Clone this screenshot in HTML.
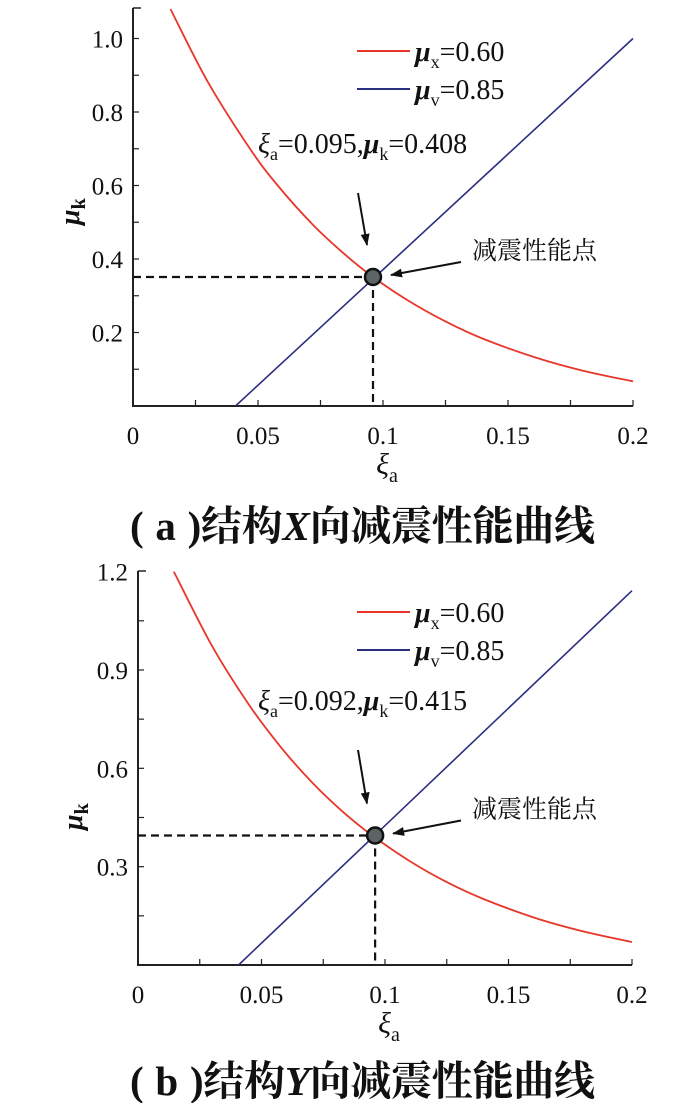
<!DOCTYPE html>
<html><head><meta charset="utf-8">
<style>
html,body{margin:0;padding:0;background:#fff;}
svg{display:block;}
text{font-family:"Liberation Serif","Noto Serif CJK SC",serif;fill:#111;}
.cap{font-family:"Liberation Serif","Noto Serif CJK SC",serif;font-weight:bold;font-size:41px;}
</style></head>
<body>
<svg id="chart" width="700" height="1103" viewBox="0 0 700 1103" xmlns="http://www.w3.org/2000/svg">
<defs>
<marker id="ah" markerWidth="12" markerHeight="9" refX="11" refY="4.5" orient="auto" markerUnits="userSpaceOnUse"><path d="M0,0 L12,4.5 L0,9 Z" fill="#111"/></marker>
</defs>
</svg>
<script>
// Panel A data
const xTicksA = [0, 0.05, 0.1, 0.15, 0.2];
const xTickLabelsA = ["0", "0.05", "0.1", "0.15", "0.2"];
const yTicksA = [0.2, 0.4, 0.6, 0.8, 1.0];
const yTickLabelsA = ["0.2", "0.4", "0.6", "0.8", "1.0"];
const redXA = [0.015, 0.03, 0.047, 0.058, 0.072, 0.085, 0.096, 0.11, 0.125, 0.14, 0.161, 0.18, 0.2];
const redYA = [1.08, 0.881, 0.698, 0.599, 0.493, 0.411, 0.351, 0.287, 0.230, 0.183, 0.132, 0.096, 0.067];
const blueXA = [0.041, 0.2];
const blueYA = [0.0, 1.0];
const pointA = [0.096, 0.351];
// Panel B data
const xTicksB = [0, 0.05, 0.1, 0.15, 0.2];
const xTickLabelsB = ["0", "0.05", "0.1", "0.15", "0.2"];
const yTicksB = [0.3, 0.6, 0.9, 1.2];
const yTickLabelsB = ["0.3", "0.6", "0.9", "1.2"];
const redXB = [0.0145, 0.03, 0.0452, 0.058, 0.0706, 0.083, 0.095, 0.11, 0.125, 0.14, 0.161, 0.18, 0.2];
const redYB = [1.2, 0.973, 0.791, 0.663, 0.556, 0.467, 0.394, 0.317, 0.253, 0.201, 0.143, 0.103, 0.070];
const blueXB = [0.0407, 0.2];
const blueYB = [0.0, 1.142];
const pointB = [0.096, 0.395];

const NS = "http://www.w3.org/2000/svg";
const svg = document.getElementById('chart');
function mk(tag, attrs, parent, txt){
  const e = document.createElementNS(NS, tag);
  for (const k in attrs) e.setAttribute(k, attrs[k]);
  if (txt !== undefined) e.textContent = txt;
  (parent || svg).appendChild(e);
  return e;
}
function smoothPath(px){
  let d = "M" + px[0][0] + "," + px[0][1];
  for (let i = 0; i < px.length - 1; i++){
    const p0 = px[i-1] || px[i], p1 = px[i], p2 = px[i+1], p3 = px[i+2] || p2;
    const c1 = [p1[0] + (p2[0]-p0[0])/6, p1[1] + (p2[1]-p0[1])/6];
    const c2 = [p2[0] - (p3[0]-p1[0])/6, p2[1] - (p3[1]-p1[1])/6];
    d += " C" + c1 + " " + c2 + " " + p2;
  }
  return d;
}
function panel(o){
  const g = mk('g', {});
  
  
  const sx = v => o.x0 + v / 0.2 * (o.x1 - o.x0);
  const sy = v => o.y0 - v * o.ppu;
  const ax = mk('path', {d:`M${o.x0},${o.top} L${o.x0},${o.y0} L${o.x1},${o.y0}`, fill:'none', stroke:'#222', 'stroke-width':2}, g);
  
  
  for (let i = 0; i <= 8; i++){
    const x = sx(i * 0.025);
    mk('line', {x1:x, x2:x, y1:o.y0, y2:o.y0-6, stroke:'#222', 'stroke-width':1.2}, g);
  }
  o.xTicks.forEach((t, i) => {
    const lb = mk('text', {x:sx(t), y:o.y0+38, 'text-anchor':'middle', 'font-size':25}, g, o.xLabels[i]);
    
    
  });
  for (let v = o.minorY; v < o.ymax; v += o.minorY){
    const y = sy(v);
    mk('line', {x1:o.x0, x2:o.x0+6, y1:y, y2:y, stroke:'#222', 'stroke-width':1.2}, g);
  }
  mk('line', {x1:o.x0, x2:o.x0+8, y1:o.top, y2:o.top, stroke:'#222', 'stroke-width':1.5}, g);
  o.yTicks.forEach((t, i) => {
    const lb = mk('text', {x:o.x0-10, y:sy(t)+9, 'text-anchor':'end', 'font-size':25}, g, o.yLabels[i]);
    
    
  });
  const xt = mk('text', {x:(o.x0+o.x1)/2+4, y:o.y0+68, 'text-anchor':'middle', 'font-size':30, 'font-style':'italic'}, g);
  xt.innerHTML = 'ξ<tspan font-size="20" dy="8" font-style="normal">a</tspan>';
  
  
  const yt = mk('text', {x:0, y:0, 'font-size':28, 'font-weight':'bold', 'font-style':'italic', transform:`translate(${o.ytX},${o.ytY}) rotate(-90)`}, g);
  yt.innerHTML = 'μ<tspan font-size="20" dy="6" font-style="normal">k</tspan>';
  
  
  const red = mk('path', {d:smoothPath(o.redX.map((v,i)=>[sx(v), sy(o.redY[i])])), fill:'none', stroke:'#e8372a', 'stroke-width':1.8}, g);
  
  
  const blue = mk('path', {d:'M' + o.blueX.map((v,i)=>sx(v)+','+sy(o.blueY[i])).join(' L'), fill:'none', stroke:'#2b2f80', 'stroke-width':1.6}, g);
  
  
  const px = sx(o.pt[0]), py = sy(o.pt[1]);
  const dh = mk('path', {d:`M${o.x0},${py} L${px},${py} M${px},${py} L${px},${o.y0}`, fill:'none', stroke:'#111', 'stroke-width':2.2, 'stroke-dasharray':'8,5'}, g);
  
  
  const dot = mk('circle', {cx:px, cy:py, r:8, fill:'#5d6464', stroke:'#111', 'stroke-width':2.5}, g);
  
  
  const lg = mk('g', {}, g);
  
  
  mk('line', {x1:357, x2:410, y1:o.legY, y2:o.legY, stroke:'#e8372a', 'stroke-width':2}, lg);
  const l1 = mk('text', {x:415, y:o.legY+10, 'font-size':28}, lg);
  l1.innerHTML = '<tspan font-style="italic" font-weight="bold">μ</tspan><tspan font-size="18" dy="7">x</tspan><tspan dy="-7">=0.60</tspan>';
  mk('line', {x1:357, x2:410, y1:o.legY+38, y2:o.legY+38, stroke:'#2b2f80', 'stroke-width':2}, lg);
  const l2 = mk('text', {x:415, y:o.legY+48, 'font-size':28}, lg);
  l2.innerHTML = '<tspan font-style="italic" font-weight="bold">μ</tspan><tspan font-size="18" dy="7">v</tspan><tspan dy="-7">=0.85</tspan>';
  const an = mk('text', {x:258, y:o.annY, 'font-size':28}, g);
  an.innerHTML = '<tspan font-style="italic">ξ</tspan><tspan font-size="18" dy="7">a</tspan><tspan dy="-7">=0.0' + o.annA + ',</tspan><tspan font-style="italic" font-weight="bold">μ</tspan><tspan font-size="18" dy="7">k</tspan><tspan dy="-7">=0.' + o.annB + '</tspan>';
  
  
  mk('line', {x1:358, y1:o.annY+40, x2:367, y2:py-32, stroke:'#111', 'stroke-width':2, 'marker-end':'url(#ah)'}, g);
  const cn = mk('text', {x:472, y:py-18, 'font-size':25, 'font-family':'"Noto Sans CJK SC",sans-serif'}, g, '减震性能点');
  
  
  mk('line', {x1:461, y1:py-15, x2:px+18, y2:py-2, stroke:'#111', 'stroke-width':2, 'marker-end':'url(#ah)'}, g);
  const cap = mk('text', {x:130, y:o.capY, 'class':'cap', textLength:465, lengthAdjust:'spacing'}, g);
  cap.innerHTML = '(<tspan dx="12">' + o.capL + '</tspan><tspan dx="12">)结构</tspan><tspan font-style="italic">' + o.capD + '</tspan>向减震性能曲线';
  
  
}
panel({name:'panel-a', x0:133, x1:633, y0:406, ppu:367.5, top:8, ymax:1.08, minorY:0.1,
  xTicks:xTicksA, xLabels:xTickLabelsA, yTicks:yTicksA, yLabels:yTickLabelsA,
  redX:redXA, redY:redYA, blueX:blueXA, blueY:blueYA, pt:pointA,
  ytX:79, ytY:225, legY:51, annY:153, annA:'95', annB:'408', capY:540, capL:'a', capD:'X'});
panel({name:'panel-b', x0:138, x1:632, y0:965, ppu:327.8, top:571, ymax:1.2, minorY:0.15,
  xTicks:xTicksB, xLabels:xTickLabelsB, yTicks:yTicksB, yLabels:yTickLabelsB,
  redX:redXB, redY:redYB, blueX:blueXB, blueY:blueYB, pt:pointB,
  ytX:82, ytY:830, legY:612, annY:710, annA:'92', annB:'415', capY:1095, capL:'b', capD:'Y'});
</script>
</body></html>
